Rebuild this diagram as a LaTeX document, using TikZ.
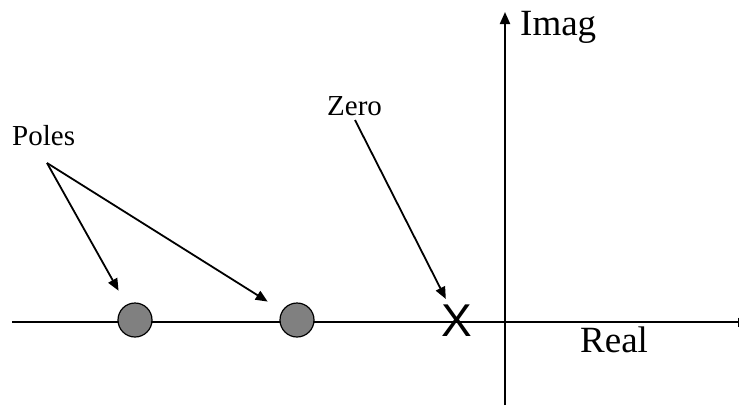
\documentclass[tikz,border=0pt]{standalone}
\usepackage{fontspec}
\setmainfont{Liberation Serif}
\newfontfamily\marksans{Liberation Sans}
\usepackage{xcolor}
\usetikzlibrary{arrows.meta}
\definecolor{PoleGray}{HTML}{808080}
\definecolor{AxisBlack}{HTML}{000000}

\begin{document}
\begin{tikzpicture}[x=1pt, y=-1pt, >={Triangle[length=12pt,width=10pt]}]
    \useasboundingbox (0,0) rectangle (740,405);

    % Axes
    \coordinate (reLeft) at (12,322);
    \coordinate (reRight) at (739,322);
    \coordinate (imBottom) at (505,405);
    \coordinate (imTop) at (505,12);
    \draw[line width=2pt, AxisBlack, -{Bar[width=9pt,line width=1pt]}] (reLeft) -- (reRight);
    \draw[line width=2pt, AxisBlack, ->] (imBottom) -- (imTop);

    % Axis labels
    \node[anchor=base west, inner sep=0pt, font=\fontsize{37}{44}\selectfont] (imag) at (520,35) {Imag};
    \node[anchor=base west, inner sep=0pt, font=\fontsize{37}{44}\selectfont] (real) at (580,352) {Real};

    % Poles and zero on the real axis
    \node[circle, draw, line width=1.2pt, fill=PoleGray, minimum size=34pt, inner sep=0pt] (pole1) at (135,320) {};
    \node[circle, draw, line width=1.2pt, fill=PoleGray, minimum size=34pt, inner sep=0pt] (pole2) at (297,320) {};
    \node[font=\marksans\fontsize{46}{50}\selectfont] (zeromark) at (457,321) {X};

    % Labels with pointers
    \node[anchor=base west, inner sep=0pt, font=\fontsize{29}{34}\selectfont] (poles) at (12,145) {Poles};
    \node[anchor=base west, inner sep=0pt, font=\fontsize{29}{34}\selectfont] (zero) at (327,115) {Zero};
    \coordinate (polesTail) at (47,163);
    \coordinate (zeroTail) at (355,120);
    \draw[->, line width=1.8pt, shorten >=16pt] (polesTail) -- (pole1);
    \draw[->, line width=1.8pt, shorten >=17pt] (polesTail) -- (pole2);
    \draw[->, line width=1.8pt, shorten >=3pt] (zeroTail) -- (zeromark);

\end{tikzpicture}
\end{document}
